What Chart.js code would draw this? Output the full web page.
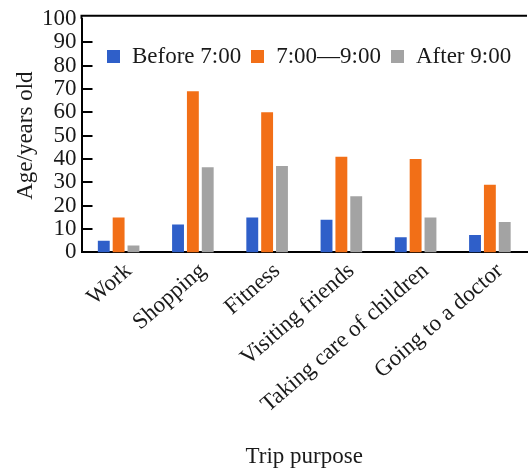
<!DOCTYPE html>
<html>
<head>
<meta charset="utf-8">
<script src="https://cdn.jsdelivr.net/npm/chart.js@4"></script>
<style>
  html, body { margin: 0; padding: 0; background: #fff; }
  #wrap { position: relative; width: 528px; height: 471px; }
  #legend {
    position: absolute; left: 107px; top: 43px;
    display: flex; align-items: center;
    font-family: 'Liberation Serif', 'Times New Roman', serif;
    font-size: 23px; color: #1a1a1a; white-space: nowrap;
  }
  #legend .item { display: flex; align-items: center; margin-right: 10px; }
  #legend .box { width: 13px; height: 13px; margin-right: 12px; }
</style>
</head>
<body>
<div id="wrap">
  <canvas id="chart" width="528" height="471"></canvas>
  <div id="legend"></div>
</div>
<script>
const categories = ['Work', 'Shopping', 'Fitness', 'Visiting friends', 'Taking care of children', 'Going to a doctor'];
const seriesNames = ['Before 7:00', '7:00\u20149:00', 'After 9:00'];
const before7 = [5, 12, 15, 14, 6.5, 7.5];
const between7and9 = [15, 69, 60, 41, 40, 29];
const after9 = [3, 36.5, 37, 24, 15, 13];
const colors = ['#2f5fc9', '#f26f17', '#a3a3a3'];
const yTicks = [0, 10, 20, 30, 40, 50, 60, 70, 80, 90, 100];

const serif = "'Liberation Serif', 'Times New Roman', serif";
const textColor = '#1a1a1a';

// inward y ticks + top frame line
const frame = {
    id: 'frame',
    afterDraw(chart) {
        const { ctx, chartArea, scales } = chart;
        const y = scales.y;
        ctx.save();
        ctx.strokeStyle = '#000';
        ctx.lineWidth = 2;
        ctx.beginPath();
        y.ticks.forEach(t => {
            if (t.value > 0 && t.value < 100) {
                const py = Math.round(y.getPixelForValue(t.value));
                ctx.moveTo(chartArea.left, py);
                ctx.lineTo(chartArea.left + 11, py);
            }
        });
        ctx.moveTo(chartArea.left - 1, chartArea.top - 3);
        ctx.lineTo(chartArea.right, chartArea.top - 3);
        ctx.moveTo(chartArea.left, chartArea.top - 3);
        ctx.lineTo(chartArea.left, chartArea.top);
        ctx.stroke();
        ctx.restore();
    }
};

const datasets = [before7, between7and9, after9].map((values, i) => ({
    label: seriesNames[i],
    data: values,
    backgroundColor: colors[i],
    categoryPercentage: 0.6,
    barPercentage: 0.8
}));

new Chart(document.getElementById('chart').getContext('2d'), {
    type: 'bar',
    data: { labels: categories, datasets: datasets },
    options: {
        responsive: false,
        animation: false,
        layout: { padding: { left: 0, top: 12, right: 1, bottom: 0 } },
        plugins: {
            legend: { display: false },
            tooltip: { enabled: false }
        },
        scales: {
            x: {
                grid: { display: false, drawTicks: false },
                border: { display: true, color: '#000', width: 2 },
                ticks: {
                    color: textColor,
                    font: { family: serif, size: 23 },
                    minRotation: 41,
                    maxRotation: 41,
                    autoSkip: false,
                    padding: 5,
                    labelOffset: 10
                },
                title: {
                    display: true,
                    text: 'Trip purpose',
                    color: textColor,
                    font: { family: serif, size: 23 },
                    padding: { top: 20, bottom: 0 }
                }
            },
            y: {
                min: 0,
                max: 100,
                afterBuildTicks: axis => { axis.ticks = yTicks.map(v => ({ value: v })); },
                grid: { display: false, drawTicks: false },
                border: { display: true, color: '#000', width: 2 },
                ticks: {
                    color: textColor,
                    font: { family: serif, size: 23 },
                    padding: 5,
                    autoSkip: false
                },
                title: {
                    display: true,
                    text: 'Age/years old',
                    color: textColor,
                    font: { family: serif, size: 23, lineHeight: 1 },
                    padding: { top: 14, bottom: 0 }
                }
            }
        }
    },
    plugins: [frame]
});

const legend = document.getElementById('legend');
seriesNames.forEach((name, i) => {
    const item = document.createElement('div');
    item.className = 'item';
    item.innerHTML = `<span class="box" style="background:${colors[i]}"></span><span>${name}</span>`;
    legend.appendChild(item);
});
</script>
</body>
</html>
